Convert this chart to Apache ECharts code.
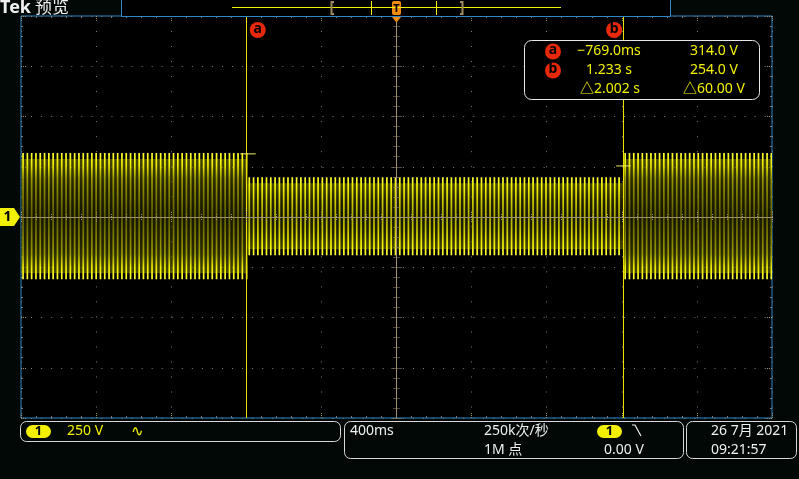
<!DOCTYPE html>
<html>
<head>
<meta charset="utf-8">
<script src="https://cdn.jsdelivr.net/npm/echarts@6/dist/echarts.min.js"></script>
<style>
  html, body { margin: 0; padding: 0; background: #010805; }
  #chart { width: 799px; height: 479px; }
</style>
</head>
<body>
<div id="chart"></div>
<script>
// scope setup
const voltsPerDiv = 250;
const secPerDiv = 0.4;
const hOffset = -0.026; // trigger point sits a touch left of screen centre

// trace envelope: start / end (s), +peak / -peak (V)
const segStart = [-1.974, -0.769, 1.233];
const segEnd = [-0.769, 1.233, 2.026];
const segPeakHi = [318, 198, 318];
const segPeakLo = [-310, -190, -310];

// cursors
const cursorName = ['a', 'b'];
const cursorTime = [-0.769, 1.233];
const cursorVolt = [314.0, 254.0];

// status bar
const chScale = '250 V';
const timebase = '400ms';
const sampleRate = '250k次/秒';
const recordLen = '1M 点';
const trigLevel = '0.00 V';
const dateText = '26 7月 2021';
const timeText = '09:21:57';

const YEL = '#f2f000';
const WHT = '#f0f0f0';
const TAN = '#a09070';
const DOT = '#7c7c7c';
const BLUE = '#2f86c8';
const RED = '#e8280a';
const FONT = "'Noto Sans', 'Noto Sans CJK SC', sans-serif";

const chart = echarts.init(document.getElementById('chart'), null, { renderer: 'canvas' });

function fmtTime(s) {
  if (Math.abs(s) < 1) return (s < 0 ? '\u2212' : '') + Math.abs(s * 1000).toFixed(1) + 'ms';
  return s.toFixed(3) + ' s';
}

const stripeGradDim = new echarts.graphic.LinearGradient(0, 0, 0, 1, [
  { offset: 0, color: '#ffff30' }, { offset: 0.1, color: '#eaea00' },
  { offset: 0.2, color: '#9a9a00' }, { offset: 0.5, color: '#5e5e00' },
  { offset: 0.8, color: '#9a9a00' }, { offset: 0.9, color: '#eaea00' },
  { offset: 1, color: '#ffff30' }
]);
const stripeGradBright = new echarts.graphic.LinearGradient(0, 0, 0, 1, [
  { offset: 0, color: '#ffff30' }, { offset: 0.15, color: '#f0f000' },
  { offset: 0.35, color: '#c4c400' }, { offset: 0.5, color: '#acac00' },
  { offset: 0.65, color: '#c4c400' }, { offset: 0.85, color: '#f0f000' },
  { offset: 1, color: '#ffff30' }
]);
const bandGrad = new echarts.graphic.LinearGradient(0, 0, 0, 1, [
  { offset: 0, color: 'rgba(120,120,0,0.6)' }, { offset: 0.25, color: 'rgba(70,70,0,0.5)' },
  { offset: 0.5, color: 'rgba(45,45,0,0.5)' }, { offset: 0.75, color: 'rgba(70,70,0,0.5)' },
  { offset: 1, color: 'rgba(120,120,0,0.6)' }
]);

function renderTrace(params, api) {
  const t0 = api.value(0) + hOffset;
  const t1 = api.value(1) + hOffset;
  const pTop = api.coord([t0, api.value(2)]);
  const pBot = api.coord([t1, api.value(3)]);
  const cs = params.coordSys;
  const x0 = Math.max(pTop[0], cs.x);
  const x1 = Math.min(pBot[0], cs.x + cs.width);
  const yTop = pTop[1];
  const h = pBot[1] - pTop[1];
  const grad = h > 100 ? stripeGradDim : stripeGradBright;
  const children = [{
    type: 'rect',
    shape: { x: x0, y: yTop + 6, width: x1 - x0, height: h - 12 },
    style: { fill: bandGrad }
  }];
  for (let x = x0 + 1.2; x < x1 - 0.8; x += 4.3) {
    children.push({
      type: 'rect',
      shape: { x: x, y: yTop, width: 1.7, height: h },
      style: { fill: grad }
    });
  }
  return { type: 'group', children: children };
}

function edgeAxis(pos, isX) {
  return {
    type: 'value', position: pos,
    min: isX ? -5 * secPerDiv : -4 * voltsPerDiv,
    max: isX ? 5 * secPerDiv : 4 * voltsPerDiv,
    interval: isX ? secPerDiv : voltsPerDiv,
    axisLine: { show: false, onZero: false },
    axisLabel: { show: false },
    axisTick: { show: true, inside: true, length: 6, lineStyle: { color: TAN, type: [1, 1] } },
    minorTick: { show: true, splitNumber: 5, length: 2, lineStyle: { color: DOT } },
    splitLine: { show: false },
    z: 1
  };
}

function centreAxis(pos, isX) {
  const a = edgeAxis(pos, isX);
  a.axisLine = { show: true, onZero: true, lineStyle: { color: TAN, width: 1 } };
  a.axisTick = { show: true, inside: true, length: 6, lineStyle: { color: TAN, type: [1, 1] } };
  a.minorTick = { show: true, splitNumber: 5, length: 3, lineStyle: { color: TAN, type: [1, 1] } };
  a.z = 6;
  return a;
}

const xBottom = edgeAxis('bottom', true);
xBottom.splitLine = { show: true, lineStyle: { color: DOT, width: 1, type: [1, 14.02] } };
const yLeft = edgeAxis('left', false);
yLeft.splitLine = { show: true, lineStyle: { color: DOT, width: 1, type: [1, 9.05] } };

const traceData = segStart.map((s, i) => [s, segEnd[i], segPeakHi[i], segPeakLo[i]]);

chart.setOption({
  animation: false,
  backgroundColor: '#010805',
  grid: {
    left: 21, top: 16, width: 751, height: 402,
    show: true, backgroundColor: '#000', borderColor: BLUE, borderWidth: 1
  },
  xAxis: [xBottom, edgeAxis('top', true), centreAxis('bottom', true), centreAxis('top', true)],
  yAxis: [yLeft, edgeAxis('right', false), centreAxis('left', false), centreAxis('right', false)],
  series: [
    {
      type: 'custom', name: 'CH1', xAxisIndex: 0, yAxisIndex: 0,
      renderItem: renderTrace, data: traceData, clip: true, z: 2, silent: true
    },
    {
      type: 'line', name: 'cursors', xAxisIndex: 0, yAxisIndex: 0, data: [], z: 8, silent: true,
      markLine: {
        symbol: 'none', silent: true, animation: false,
        label: { show: false },
        lineStyle: { color: '#ece000', width: 1, type: 'solid' },
        data: cursorTime.map(t => ({ xAxis: t + hOffset }))
      }
    }
  ]
});

// overlays: screen chrome and cursor readout
function txt(text, x, y, color, size, align, weight) {
  return {
    type: 'text', z: 30,
    style: {
      text: text, x: x, y: y, fill: color,
      font: (weight || 'normal') + ' ' + size + 'px ' + FONT,
      textAlign: align || 'left', align: align || 'left',
      textVerticalAlign: 'middle', verticalAlign: 'middle'
    }
  };
}
function rrect(x, y, w, h, r, stroke, fill) {
  return {
    type: 'rect', z: 19, shape: { x: x, y: y, width: w, height: h, r: r },
    style: { stroke: stroke, fill: fill || null, lineWidth: 1 }
  };
}
function badge(letter, x, y) {
  return [
    { type: 'circle', z: 21, shape: { cx: x, cy: y, r: 8 }, style: { fill: RED } },
    txt(letter, x, y - 1, '#000', 14, 'center', 'bold')
  ];
}
function pill(x, y) {
  return [
    rrect(x, y, 25, 13, 6.5, null, YEL),
    txt('1', x + 12.5, y + 6.5, '#000', 13, 'center', 'bold')
  ];
}
function seg(x1, y1, x2, y2, color, w) {
  return { type: 'line', z: 20, shape: { x1: x1, y1: y1, x2: x2, y2: y2 }, style: { stroke: color, lineWidth: w || 1 } };
}

const g = [];
const cursorPx = cursorTime.map((t, i) => chart.convertToPixel({ gridIndex: 0 }, [t + hOffset, cursorVolt[i]]));

// cursor badges and level ticks
g.push(...badge(cursorName[0], cursorPx[0][0] + 10.5, 30));
g.push(...badge(cursorName[1], cursorPx[1][0] - 9, 30));
g.push(seg(cursorPx[0][0] - 7, cursorPx[0][1], cursorPx[0][0] + 8.5, cursorPx[0][1], '#f4f060'));
g.push(seg(cursorPx[1][0] - 7, cursorPx[1][1], cursorPx[1][0] + 7.5, cursorPx[1][1], '#f4f060'));

// top bar
g.push(txt('Tek', 0, 8, WHT, 18, 'left', 'bold'));
g.push(txt('预览', 35, 8, WHT, 17, 'left'));
g.push(rrect(121.5, -1, 549, 17.5, 0, BLUE, '#000'));
g.push(seg(232, 7.5, 561, 7.5, YEL));
g.push({ type: 'polyline', z: 20, shape: { points: [[334, 2], [331.5, 2], [331.5, 14], [334, 14]] }, style: { stroke: '#a08860', lineWidth: 2, fill: null } });
g.push({ type: 'polyline', z: 20, shape: { points: [[460, 2], [462.5, 2], [462.5, 14], [460, 14]] }, style: { stroke: '#a08860', lineWidth: 2, fill: null } });
g.push(seg(371.5, 1, 371.5, 15, YEL));
g.push(seg(436.5, 1, 436.5, 15, YEL));
g.push(rrect(392, 1, 9, 14, 2, null, '#f08c10'));
g.push(txt('T', 396.5, 8.5, '#000', 11, 'center', 'bold'));
g.push({ type: 'polygon', z: 21, shape: { points: [[392, 17], [401, 17], [396.5, 22.5]] }, style: { fill: '#f08c10' } });

// channel marker
g.push({ type: 'polygon', z: 21, shape: { points: [[0, 208], [14, 208], [20, 217], [14, 226], [0, 226]] }, style: { fill: YEL } });
g.push(txt('1', 7.5, 217, '#000', 14, 'center', 'bold'));

// cursor readout
g.push(rrect(524.5, 40.5, 235, 59, 7, '#e8e8e8', '#000'));
g.push(...badge(cursorName[0], 553, 51.5));
g.push(...badge(cursorName[1], 553, 70.5));
g.push(txt(fmtTime(cursorTime[0]), 609, 51.5, YEL, 14, 'center'));
g.push(txt(fmtTime(cursorTime[1]), 609, 70.5, YEL, 14, 'center'));
g.push(txt('\u25b3' + fmtTime(cursorTime[1] - cursorTime[0]), 610, 89.5, YEL, 14, 'center'));
g.push(txt(cursorVolt[0].toFixed(1) + ' V', 714, 51.5, YEL, 14, 'center'));
g.push(txt(cursorVolt[1].toFixed(1) + ' V', 714, 70.5, YEL, 14, 'center'));
g.push(txt('\u25b3' + (cursorVolt[0] - cursorVolt[1]).toFixed(2) + ' V', 714, 89.5, YEL, 14, 'center'));

// status bar
g.push(rrect(20.5, 421.5, 320, 20, 6, '#d8d8d8'));
g.push(...pill(26, 425));
g.push(txt(chScale, 67, 431.5, YEL, 14));
g.push(txt('\u223f', 131, 431.5, YEL, 15));
g.push(rrect(344.5, 421.5, 339, 37, 6, '#d8d8d8'));
g.push(txt(timebase, 350, 431.5, WHT, 14));
g.push(txt(sampleRate, 484, 431.5, WHT, 14));
g.push(...pill(597, 425));
g.push({ type: 'polyline', z: 20, shape: { points: [[632, 425], [635, 425], [641, 436]] }, style: { stroke: WHT, lineWidth: 1.2, fill: null } });
g.push(txt(recordLen, 484, 450.5, WHT, 14));
g.push(txt(trigLevel, 604, 450.5, WHT, 14));
g.push(rrect(686.5, 421.5, 110, 37, 6, '#d8d8d8'));
g.push(txt(dateText, 711, 431.5, WHT, 14));
g.push(txt(timeText, 711, 450.5, WHT, 14));

chart.setOption({ graphic: g });
</script>
</body>
</html>
